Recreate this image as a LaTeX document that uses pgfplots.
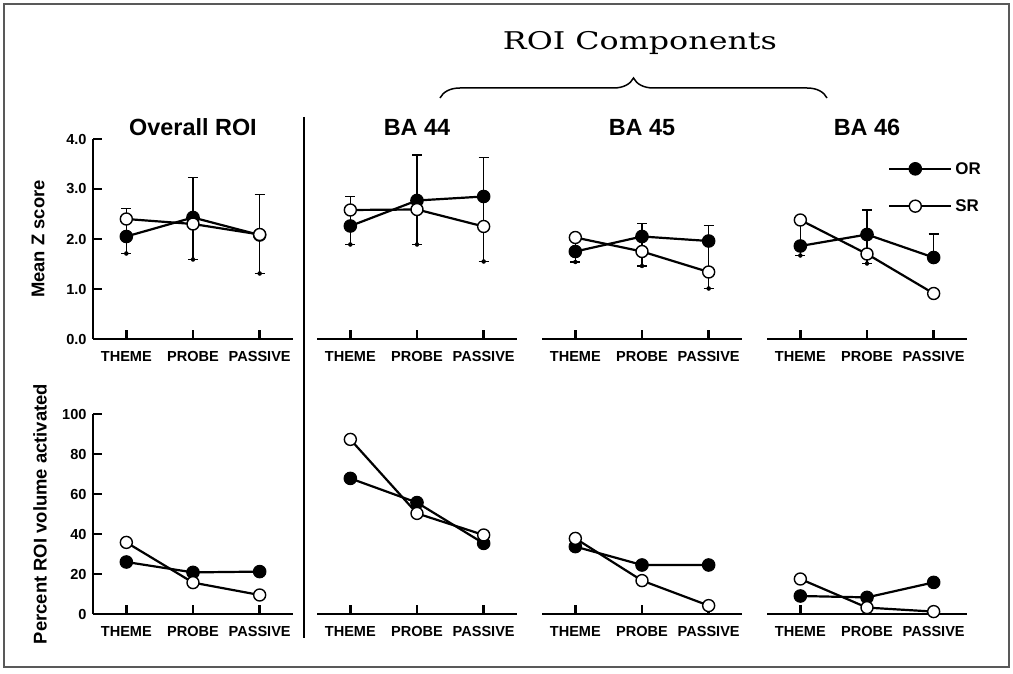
\documentclass[border=0pt]{standalone}
\usepackage{fontspec}
\setmainfont{Liberation Sans}
\newfontfamily\ttlserif{DejaVu Serif}
\usepackage{pgfplots}
\pgfplotsset{compat=1.18}
\usetikzlibrary{decorations.pathreplacing}

\pgfplotsset{
  panel/.style={
    scale only axis, width=200bp, height=200bp,
    xmin=-0.5, xmax=2.5, xtick={0,1,2},
    xticklabels={THEME,PROBE,PASSIVE},
    axis line style={line width=2.2bp, -},
    every outer x axis line/.append style={line width=2.2bp, -},
    every outer y axis line/.append style={line width=2.2bp, -},
    tick align=inside, major tick length=9bp,
    every tick/.style={line width=2.5bp, black},
    every major tick/.style={line width=2.5bp, black},
    ticklabel style={font=\fontsize{14.6}{15}\selectfont\bfseries},
    xticklabel style={yshift=-8.5bp},
    yticklabel style={xshift=-3bp},
    title style={font=\fontsize{23.5}{24}\selectfont\bfseries, at={(axis description cs:0.5,1)}, anchor=base, yshift=-2bp},
    clip=false,
  },
  toprow/.style={ymin=0, ymax=4, ytick={0,1,2,3,4},
    yticklabel style={/pgf/number format/.cd, fixed, fixed zerofill, precision=1, assume math mode=true}},
  botrow/.style={ymin=0, ymax=100, ytick={0,20,40,60,80,100},
    yticklabel style={/pgf/number format/assume math mode=true}},
  withy/.style={axis lines=left},
  noy/.style={axis x line=bottom, axis y line=none},
  ORs/.style={black, line width=2.2bp, mark=*, mark size=6.3bp, mark options={fill=black, draw=black, line width=1bp}},
  SRs/.style={black, line width=2.2bp, mark=*, mark size=6bp, mark options={fill=white, draw=black, line width=1.4bp}},
  whisk/.style={forget plot, only marks, mark=none,
    error bars/.cd, y dir=both, y explicit,
    error bar style={line width=1.1bp, black},
    error mark=-,
    error mark options={rotate=90, line width=1.1bp, black, mark size=5bp}},
  ylab/.style={ylabel style={font=\fontsize{18.5}{19}\selectfont\bfseries, at={(axis description cs:#1,0.5)}, anchor=center}},
}

\begin{document}
\begin{tikzpicture}
\path[use as bounding box] (0bp,0bp) rectangle (1013bp,674bp);
\draw[line width=1.2bp, black!65] (4bp,7bp) rectangle (1009bp,670bp);
\draw[line width=2bp] (304bp,557bp) -- (304bp,36bp);
\node[font=\ttlserif\fontsize{24.5}{25}\selectfont, anchor=base, xscale=1.3] at (640bp,624bp) {ROI Components};
\draw[line width=1.5bp, decorate, decoration={brace, amplitude=20bp}] (440bp,576bp) -- (827bp,576bp);

% ---------- top row ----------
\begin{axis}[withy, panel, toprow, at={(93bp,335bp)}, anchor=south west, title={Overall ROI}, ylab=-0.275, ylabel={Mean Z score}]
\addplot[whisk] coordinates {(0,1.71) += (0,0.90) -= (0,0) (1,1.59) += (0,1.64) -= (0,0) (2,1.31) += (0,1.58) -= (0,0)};
\addplot[ORs] coordinates {(0,2.05) (1,2.43) (2,2.08)};
\addplot[SRs] coordinates {(0,2.40) (1,2.30) (2,2.09)};
\end{axis}

\begin{axis}[noy, panel, toprow, at={(317bp,335bp)}, anchor=south west, title={BA 44}]
\addplot[whisk] coordinates {(0,1.89) += (0,0.96) -= (0,0) (1,1.89) += (0,1.79) -= (0,0) (2,1.55) += (0,2.08) -= (0,0)};
\addplot[ORs] coordinates {(0,2.26) (1,2.77) (2,2.85)};
\addplot[SRs] coordinates {(0,2.58) (1,2.59) (2,2.25)};
\end{axis}

\begin{axis}[noy, panel, toprow, at={(542bp,335bp)}, anchor=south west, title={BA 45}]
\addplot[whisk] coordinates {(0,1.54) += (0,0.49) -= (0,0) (1,1.46) += (0,0.85) -= (0,0) (2,1.01) += (0,1.26) -= (0,0)};
\addplot[ORs] coordinates {(0,1.75) (1,2.05) (2,1.96)};
\addplot[SRs] coordinates {(0,2.03) (1,1.75) (2,1.34)};
\end{axis}

\begin{axis}[noy, panel, toprow, at={(767bp,335bp)}, anchor=south west, title={BA 46},
  legend image code/.code={\draw[mark repeat=2, mark phase=2, #1] plot coordinates {(0bp,0bp) (26bp,0bp) (52bp,0bp)}; \path (52bp,0bp) -- (62bp,0bp);},
  legend style={draw=none, fill=none, inner sep=0pt, at={(axis description cs:0.605,0.7575)}, anchor=west,
    font=\fontsize{17}{17}\selectfont\bfseries, row sep=18bp, legend cell align=left,
    nodes={inner sep=3bp}}]
\addplot[whisk] coordinates {(0,1.67) += (0,0.71) -= (0,0) (1,1.51) += (0,1.07) -= (0,0) (2,1.63) += (0,0.47) -= (0,0)};
\addplot[ORs] coordinates {(0,1.86) (1,2.09) (2,1.63)};
\addplot[SRs] coordinates {(0,2.38) (1,1.70) (2,0.91)};
\legend{OR,SR}
\end{axis}

% ---------- bottom row ----------
\begin{axis}[withy, panel, botrow, at={(93bp,60bp)}, anchor=south west, ylab=-0.265, ylabel={Percent ROI volume activated}]
\addplot[ORs] coordinates {(0,26.0) (1,20.8) (2,21.2)};
\addplot[SRs] coordinates {(0,35.8) (1,15.7) (2,9.5)};
\end{axis}

\begin{axis}[noy, panel, botrow, at={(317bp,60bp)}, anchor=south west]
\addplot[ORs] coordinates {(0,67.8) (1,55.7) (2,35.3)};
\addplot[SRs] coordinates {(0,87.3) (1,50.3) (2,39.5)};
\end{axis}

\begin{axis}[noy, panel, botrow, at={(542bp,60bp)}, anchor=south west]
\addplot[ORs] coordinates {(0,33.7) (1,24.5) (2,24.5)};
\addplot[SRs] coordinates {(0,37.8) (1,16.7) (2,4.2)};
\end{axis}

\begin{axis}[noy, panel, botrow, at={(767bp,60bp)}, anchor=south west]
\addplot[ORs] coordinates {(0,9.0) (1,8.3) (2,15.8)};
\addplot[SRs] coordinates {(0,17.5) (1,3.2) (2,1.2)};
\end{axis}
\end{tikzpicture}
\end{document}
